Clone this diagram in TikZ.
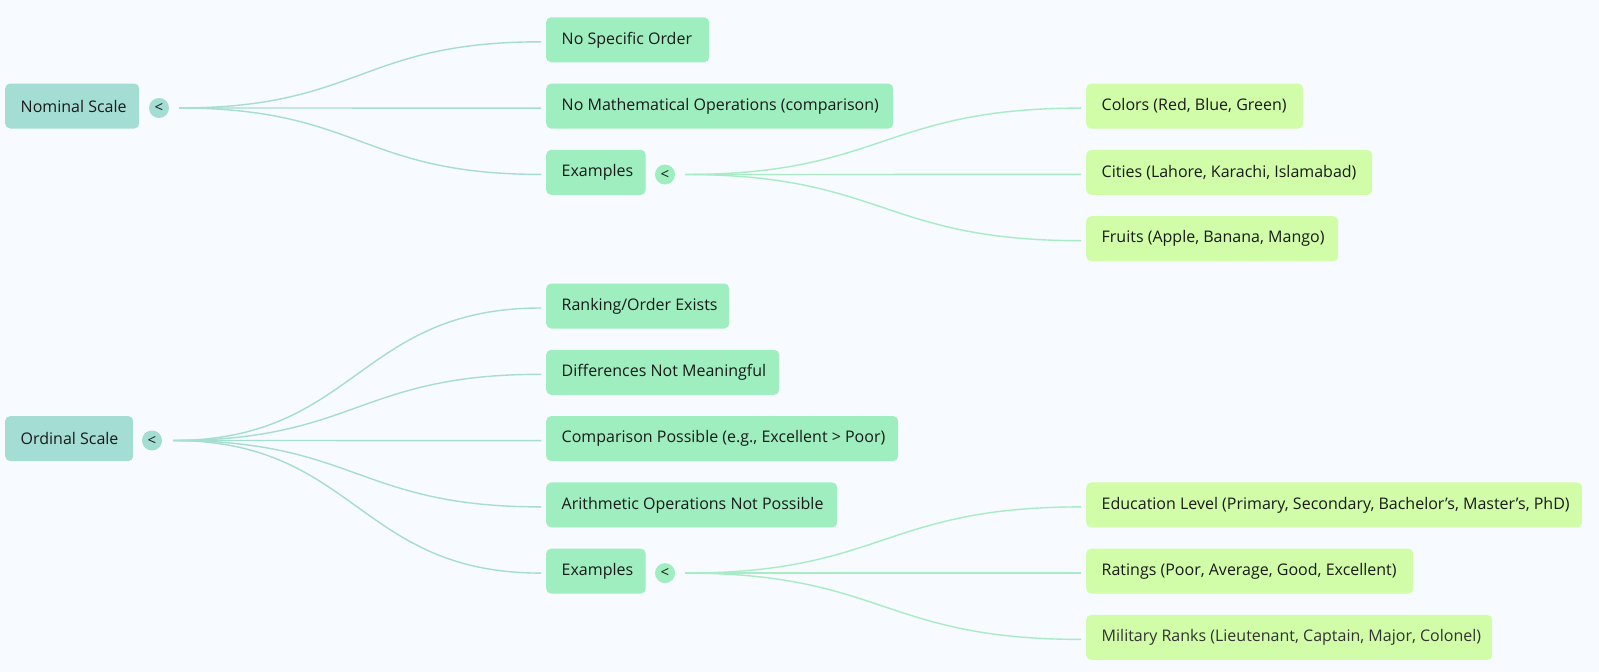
\documentclass[tikz,border=0pt]{standalone}
\usepackage{fontspec}
\setmainfont{Open Sans}
\usetikzlibrary{calc}
\definecolor{bgc}{HTML}{F7FAFE}
\definecolor{rootc}{HTML}{A3DDD3}
\definecolor{lvtwo}{HTML}{9EEEBF}
\definecolor{lvthree}{HTML}{D1FDA9}
\definecolor{lineroot}{HTML}{A6DDD2}
\definecolor{linetwo}{HTML}{A8EBC4}
\definecolor{txt}{HTML}{1A1A1A}
\definecolor{txtsoft}{HTML}{333333}
\tikzset{
  box/.style={anchor=west, rounded corners=5pt, inner xsep=15.5pt, inner ysep=0pt,
    minimum height=45pt, text=txt, font=\fontsize{16}{19}\selectfont},
  rootbox/.style={box, fill=rootc},
  twobox/.style={box, fill=lvtwo},
  threebox/.style={box, fill=lvthree},
  toggle/.style={circle, minimum size=20pt, inner sep=0pt, text=txt, font=\fontsize{15}{15}\selectfont},
  rootlink/.style={draw=lineroot, line width=1.4pt},
  twolink/.style={draw=linetwo, line width=1.4pt},
}
\newcommand{\bx}[2]{\makebox[\dimexpr #1pt-31pt\relax][l]{#2}}
\begin{document}
\begin{tikzpicture}[x=1pt,y=-1pt]
\fill[bgc] (0,0) rectangle (1599,672);
\useasboundingbox (0,0) rectangle (1599,672);
% roots
\node[rootbox] (nom) at (5,106) {\bx{134}{Nominal Scale}};
\node[toggle, fill=rootc] (cnom) at (159,108) {<};
\node[rootbox] (ord) at (5,438.6) {\bx{128}{Ordinal Scale}};
\node[toggle, fill=rootc] (cord) at (152,440.5) {<};
% level two, nominal
\node[twobox] (nso) at (546,39.8) {\bx{163}{No Specific Order}};
\node[twobox] (nmo) at (546,106.1) {\bx{347}{No Mathematical Operations (comparison)}};
\node[twobox] (nex) at (546,172.4) {\bx{99.5}{Examples}};
\node[toggle, fill=lvtwo] (cnex) at (665,174.5) {<};
% level two, ordinal
\node[twobox] (ork) at (546,306) {\bx{183}{Ranking/Order Exists}};
\node[twobox] (odf) at (546,372.3) {\bx{233}{Differences Not Meaningful}};
\node[twobox] (ocp) at (546,438.6) {\bx{352}{Comparison Possible (e.g., Excellent > Poor)}};
\node[twobox] (oar) at (546,504.9) {\bx{291}{Arithmetic Operations Not Possible}};
\node[twobox] (oex) at (546,571.1) {\bx{99.5}{Examples}};
\node[toggle, fill=lvtwo] (coex) at (665,573.1) {<};
% level three
\node[threebox] (col) at (1086,106.1) {\bx{217}{Colors (Red, Blue, Green)}};
\node[threebox] (cit) at (1086,172.4) {\bx{286}{Cities (Lahore, Karachi, Islamabad)}};
\node[threebox] (fru) at (1086,238.7) {\bx{252}{Fruits (Apple, Banana, Mango)}};
\node[threebox] (edu) at (1086,504.9) {\bx{496}{Education Level (Primary, Secondary, Bachelor’s, Master’s, PhD)}};
\node[threebox] (rat) at (1086,571.1) {\bx{327}{Ratings (Poor, Average, Good, Excellent)}};
\node[threebox, text=txtsoft] (mil) at (1086,637.4) {\bx{406}{Military Ranks (Lieutenant, Captain, Major, Colonel)}};
% connectors
\foreach \t in {nso,nmo,nex}
  \draw[rootlink] ([xshift=10pt]cnom.east) .. controls +(181,0) and +(-181,0) .. ([xshift=-5pt,yshift=-2pt]\t.west);
\foreach \t in {ork,odf,ocp,oar,oex}
  \draw[rootlink] ([xshift=11pt]cord.east) .. controls +(183,0) and +(-183,0) .. ([xshift=-5pt,yshift=-2pt]\t.west);
\foreach \t in {col,cit,fru}
  \draw[twolink] ([xshift=10pt]cnex.east) .. controls +(198,0) and +(-198,0) .. ([xshift=-5pt,yshift=-2pt]\t.west);
\foreach \t in {edu,rat,mil}
  \draw[twolink] ([xshift=10pt]coex.east) .. controls +(198,0) and +(-198,0) .. ([xshift=-5pt,yshift=-2pt]\t.west);
\end{tikzpicture}
\end{document}
